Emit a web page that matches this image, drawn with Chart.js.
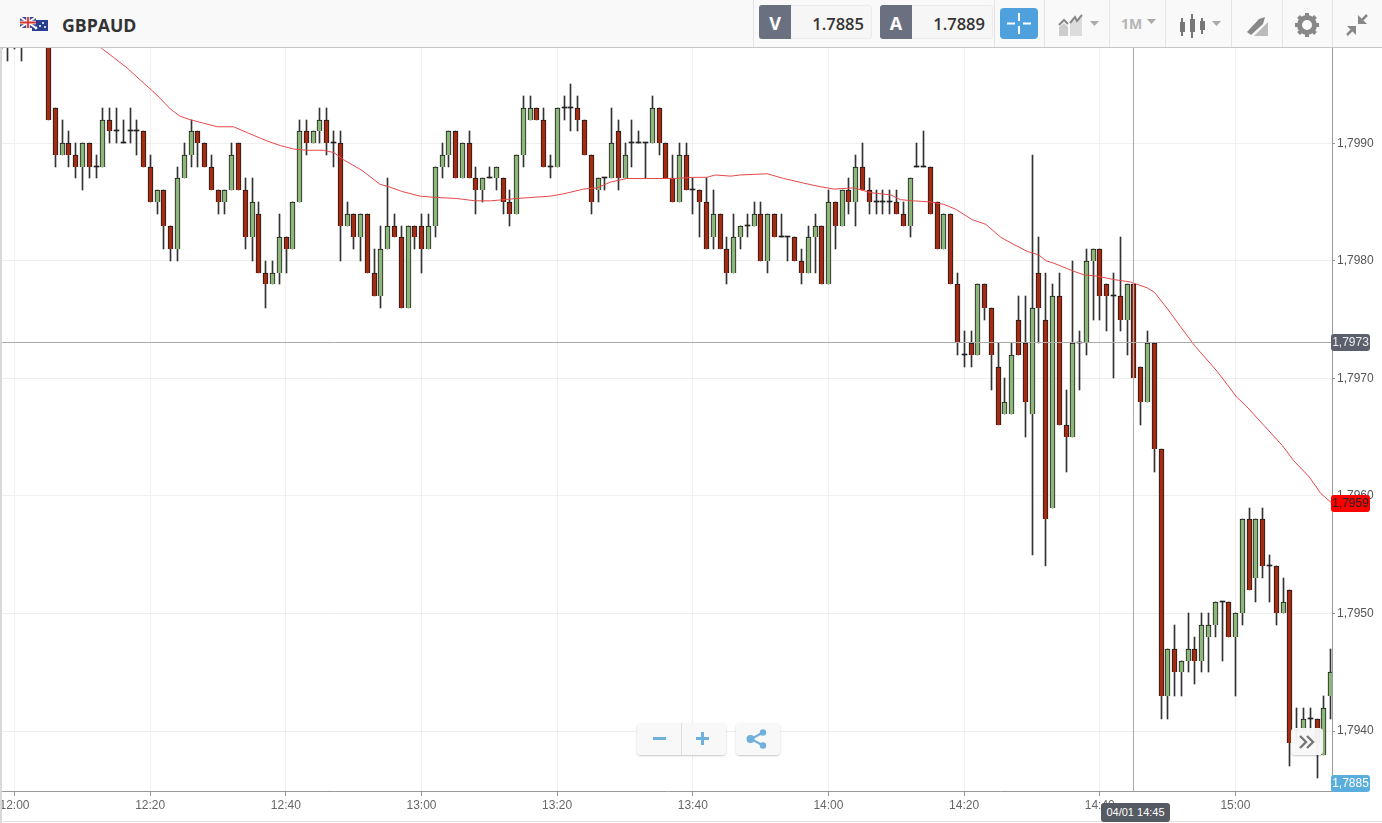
<!DOCTYPE html>
<html lang="en">
<head>
<meta charset="utf-8">
<title>GBPAUD</title>
<script src="https://cdn.jsdelivr.net/npm/chart.js@4/dist/chart.umd.min.js"></script>
<style>
html,body{margin:0;padding:0;background:#fff;width:1382px;height:823px;overflow:hidden;font-family:"Open Sans",sans-serif}
#chart{position:absolute;left:0;top:0}
.abs{position:absolute}
#header{left:0;top:0;width:1382px;height:47px;background:#f9f9f9;border-bottom:1px solid #c8c8c8}
#leftbar{left:0;top:48px;width:2px;height:775px;background:#d8d8d8}
#botline{left:0;top:821px;width:1382px;height:1px;background:#e2e2e2}
.sep{top:0;width:1px;height:47px;background:#e4e4e4}
.qty{top:5px;height:34px;background:#f6f6f6;border:1px solid #ececec;border-radius:3px;box-sizing:border-box;text-align:right;font:600 16.500px/35px "Open Sans",sans-serif;color:#333;padding-right:7px}
.side{top:5px;height:34px;width:32px;background:#6b7080;color:#fff;border-radius:3px 0 0 3px;text-align:center;font:700 18px/36px "Open Sans",sans-serif}
.pill{left:1331px;width:39px;height:17px;border-radius:3px;text-align:center;font:12px/17px "Liberation Sans",Arial,sans-serif}
.btn{background:rgba(248,248,248,.96);border-radius:4px;box-shadow:0 1px 2px rgba(0,0,0,.22)}
</style>
</head>
<body>
<canvas id="chart" width="1382" height="823"></canvas>

<div class="abs" id="leftbar"></div>
<div class="abs" id="botline"></div>
<div class="abs" id="header">
  <svg class="abs" style="left:18px;top:14px" width="32" height="20" viewBox="0 0 32 20">
    <rect x="14" y="6" width="16" height="11" fill="#2b3f8f"/>
    <circle cx="25" cy="9" r="1" fill="#fff"/><circle cx="27" cy="13" r="1" fill="#fff"/><circle cx="22" cy="12" r="1" fill="#fff"/><circle cx="18" cy="14" r="1.4" fill="#fff"/>
    <rect x="2" y="3" width="16" height="11" fill="#3a4a96"/>
    <path d="M2 3L18 14M18 3L2 14" stroke="#fff" stroke-width="2"/>
    <path d="M10 3V14M2 8.500H18" stroke="#fff" stroke-width="3.500"/>
    <path d="M10 3V14M2 8.500H18" stroke="#d33" stroke-width="1.800"/>
  </svg>
  <div class="abs" style="left:62px;top:13px;font:700 17.700px/24px 'Open Sans',sans-serif;color:#333">GBPAUD</div>
  <div class="abs sep" style="left:753px"></div>
  <div class="abs qty" style="left:759px;width:113px">1.7885</div>
  <div class="abs side" style="left:759px">V</div>
  <div class="abs qty" style="left:880px;width:113px">1.7889</div>
  <div class="abs side" style="left:880px">A</div>
  <div class="abs sep" style="left:994px"></div>
  <div class="abs" style="left:1000px;top:8px;width:38px;height:31px;background:#4ea1dc;border-radius:4px"></div>
  <svg class="abs" style="left:1000px;top:8px" width="38" height="31"><path d="M19 5V13M19 18V26M7 15.500H15M23 15.500H31" stroke="#fff" stroke-width="2"/></svg>
  <div class="abs sep" style="left:1044px"></div>
  <svg class="abs" style="left:1056px;top:12px" width="46" height="26">
    <path d="M3 24V15L8 11L12 15V24Z" fill="#ccc"/><path d="M14 24V9L26 6V24Z" fill="#dcdcdc"/>
    <path d="M3 13L8 8L12 12" fill="none" stroke="#888" stroke-width="2"/><path d="M14 11L19 5L21 9L26 3" fill="none" stroke="#888" stroke-width="2"/>
    <path d="M34 9H43L38.500 14Z" fill="#aaa"/>
  </svg>
  <div class="abs sep" style="left:1109px"></div>
  <div class="abs" style="left:1121px;top:14px;font:700 14px/20px 'Open Sans',sans-serif;color:#b4b4b4">1M</div>
  <svg class="abs" style="left:1145px;top:18px" width="12" height="8"><path d="M2 1H11L6.500 6Z" fill="#aaa"/></svg>
  <div class="abs sep" style="left:1165px"></div>
  <svg class="abs" style="left:1176px;top:12px" width="48" height="28">
    <path d="M6 6V24M16 2V26M26 6V22" stroke="#777" stroke-width="2"/>
    <rect x="4" y="10" width="5" height="10" fill="#777"/><rect x="14" y="7" width="5" height="13" fill="#777"/><rect x="24" y="9" width="5" height="9" fill="#777"/>
    <path d="M36 9H45L40.500 14Z" fill="#aaa"/>
  </svg>
  <div class="abs sep" style="left:1231px"></div>
  <svg class="abs" style="left:1244px;top:14px" width="26" height="24">
    <path d="M3 18L15 5L21 3L19 10L7 21Z" fill="#888"/>
    <path d="M10 22L24 8V22Z" fill="#bbb"/>
  </svg>
  <div class="abs sep" style="left:1282px"></div>
  <svg class="abs" style="left:1295px;top:13px" width="24" height="24" viewBox="0 0 24 24">
    <circle cx="12" cy="12" r="7.500" fill="none" stroke="#888" stroke-width="5"/>
    <path d="M12 0V5M12 19V24M0 12H5M19 12H24M3.500 3.500L7 7M17 17L20.500 20.500M20.500 3.500L17 7M7 17L3.500 20.500" stroke="#888" stroke-width="4"/>
  </svg>
  <div class="abs sep" style="left:1332px"></div>
  <svg class="abs" style="left:1345px;top:13px" width="24" height="24">
    <path d="M22 2L15 9" stroke="#888" stroke-width="2.500"/><path d="M13 2V11H22Z" fill="#888"/>
    <path d="M2 22L9 15" stroke="#888" stroke-width="2.500"/><path d="M11 22V13H2Z" fill="#888"/>
  </svg>
</div>

<div class="abs pill" style="top:334px;background:#5b606c;color:#eee">1,7973</div>
<div class="abs pill" style="top:495px;background:#f00;color:#222">1,7959</div>
<div class="abs pill" style="top:775px;background:#5aaede;color:#fff">1,7885</div>
<div class="abs" style="left:1101px;top:803px;width:69px;height:19px;background:#565b63;border-radius:3px;color:#fff;text-align:center;font:11px/19px 'Liberation Sans',Arial,sans-serif">04/01 14:45</div>

<div class="abs btn" style="left:637px;top:723px;width:89px;height:32px"></div>
<div class="abs" style="left:681px;top:723px;width:1px;height:32px;background:#ddd"></div>
<svg class="abs" style="left:637px;top:723px" width="89" height="32"><path d="M16 15.500H29M59 15.500H72M65.500 9V22" stroke="#6fb1dc" stroke-width="3"/></svg>
<div class="abs btn" style="left:736px;top:723px;width:44px;height:32px"></div>
<svg class="abs" style="left:736px;top:723px" width="44" height="32"><path d="M15 16L27 9.500M15 16L27 22.500" stroke="#6fb1dc" stroke-width="2"/><circle cx="14.500" cy="16" r="4" fill="#6fb1dc"/><circle cx="27" cy="9.500" r="3.200" fill="#6fb1dc"/><circle cx="27" cy="22.500" r="3.200" fill="#6fb1dc"/></svg>
<div class="abs btn" style="left:1291px;top:728px;width:32px;height:27px"></div>
<svg class="abs" style="left:1291px;top:728px" width="32" height="27"><path d="M9 8L15 14L9 20M16 8L22 14L16 20" fill="none" stroke="#777" stroke-width="2.400"/></svg>

<script>
const firstMinute = -2;

const opens = [
1.8000,1.7999,1.8000,1.8001,1.7999,1.8002,1.8004,1.8005,
1.7993,1.7989,1.7990,1.7989,1.7988,1.7990,1.7988,1.7988,1.7992,1.7991,
1.7990,1.7991,1.7991,1.7991,1.7988,1.7985,1.7986,1.7983,1.7981,1.7987,
1.7989,1.7991,1.7990,1.7988,1.7986,1.7985,1.7986,1.7990,1.7986,1.7982,
1.7984,1.7979,1.7978,1.7979,1.7982,1.7981,1.7985,1.7991,1.7990,1.7991,
1.7992,1.7990,1.7990,1.7983,1.7984,1.7982,1.7984,1.7979,1.7977,1.7981,
1.7983,1.7982,1.7976,1.7983,1.7983,1.7981,1.7983,1.7988,1.7989,1.7991,
1.7987,1.7990,1.7987,1.7986,1.7987,1.7987,1.7987,1.7985,1.7984,1.7989,
1.7992,1.7993,1.7992,1.7988,1.7988,1.7993,1.7993,1.7993,1.7992,1.7989,
1.7986,1.7987,1.7987,1.7991,1.7987,1.7990,1.7990,1.7990,1.7990,1.7993,
1.7990,1.7987,1.7985,1.7989,1.7986,1.7986,1.7985,1.7982,1.7984,1.7981,
1.7979,1.7982,1.7983,1.7983,1.7984,1.7980,1.7984,1.7982,1.7982,1.7982,
1.7980,1.7979,1.7982,1.7983,1.7978,1.7985,1.7983,1.7986,1.7985,1.7988,
1.7986,1.7985,1.7985,1.7985,1.7985,1.7984,1.7983,1.7988,1.7988,1.7988,
1.7985,1.7981,1.7984,1.7978,1.7972,1.7973,1.7972,1.7978,1.7976,1.7971,
1.7967,1.7967,1.7975,1.7973,1.7967,1.7979,1.7975,1.7959,1.7977,1.7966,
1.7965,1.7973,1.7973,1.7980,1.7981,1.7978,1.7977,1.7977,1.7975,1.7978,
1.7971,1.7968,1.7973,1.7964,1.7943,1.7947,1.7945,1.7946,1.7947,1.7946,
1.7948,1.7949,1.7951,1.7951,1.7948,1.7950,1.7958,1.7953,1.7958,1.7954,
1.7954,1.7950,1.7952,1.7940,1.7940,1.7941,1.7941,1.7938,1.7943];

const highs = [
1.8001,1.8001,1.8002,1.8002,1.8003,1.8005,1.8006,1.8005,
1.7993,1.7992,1.7991,1.7990,1.7990,1.7990,1.7989,1.7993,1.7993,1.7993,
1.7992,1.7993,1.7992,1.7991,1.7989,1.7986,1.7986,1.7983,1.7988,1.7990,
1.7992,1.7991,1.7990,1.7989,1.7986,1.7986,1.7990,1.7990,1.7987,1.7987,
1.7985,1.7980,1.7980,1.7984,1.7982,1.7985,1.7992,1.7992,1.7991,1.7993,
1.7993,1.7991,1.7991,1.7985,1.7984,1.7984,1.7984,1.7981,1.7983,1.7987,
1.7984,1.7983,1.7983,1.7983,1.7984,1.7984,1.7988,1.7990,1.7991,1.7991,
1.7990,1.7991,1.7988,1.7987,1.7988,1.7988,1.7987,1.7986,1.7989,1.7994,
1.7994,1.7993,1.7993,1.7989,1.7993,1.7994,1.7995,1.7994,1.7992,1.7989,
1.7987,1.7987,1.7993,1.7992,1.7990,1.7992,1.7991,1.7990,1.7994,1.7993,
1.7990,1.7989,1.7990,1.7990,1.7987,1.7986,1.7987,1.7986,1.7984,1.7982,
1.7984,1.7983,1.7984,1.7985,1.7985,1.7984,1.7984,1.7984,1.7982,1.7982,
1.7981,1.7983,1.7984,1.7983,1.7986,1.7985,1.7986,1.7987,1.7989,1.7990,
1.7987,1.7986,1.7986,1.7986,1.7986,1.7985,1.7987,1.7990,1.7991,1.7988,
1.7985,1.7984,1.7984,1.7979,1.7974,1.7974,1.7978,1.7978,1.7976,1.7973,
1.7970,1.7973,1.7977,1.7977,1.7989,1.7982,1.7979,1.7978,1.7979,1.7969,
1.7980,1.7974,1.7981,1.7981,1.7981,1.7978,1.7979,1.7982,1.7978,1.7978,
1.7971,1.7974,1.7973,1.7964,1.7947,1.7949,1.7946,1.7950,1.7948,1.7950,
1.7950,1.7951,1.7951,1.7951,1.7950,1.7958,1.7959,1.7958,1.7959,1.7955,
1.7954,1.7953,1.7952,1.7942,1.7942,1.7942,1.7941,1.7943,1.7947];

const lows = [
1.7998,1.7997,1.7998,1.7997,1.7999,1.8000,1.8002,1.7992,
1.7988,1.7989,1.7988,1.7987,1.7986,1.7987,1.7987,1.7988,1.7990,1.7990,
1.7990,1.7990,1.7989,1.7988,1.7985,1.7984,1.7981,1.7980,1.7980,1.7987,
1.7988,1.7988,1.7988,1.7986,1.7984,1.7984,1.7986,1.7986,1.7981,1.7980,
1.7979,1.7976,1.7978,1.7978,1.7979,1.7981,1.7985,1.7989,1.7990,1.7990,
1.7989,1.7988,1.7980,1.7983,1.7981,1.7980,1.7979,1.7977,1.7976,1.7981,
1.7982,1.7976,1.7976,1.7981,1.7979,1.7981,1.7982,1.7987,1.7988,1.7987,
1.7987,1.7987,1.7984,1.7985,1.7987,1.7986,1.7984,1.7983,1.7984,1.7988,
1.7992,1.7992,1.7988,1.7987,1.7988,1.7992,1.7991,1.7991,1.7989,1.7984,
1.7985,1.7986,1.7987,1.7986,1.7987,1.7988,1.7990,1.7987,1.7990,1.7989,
1.7987,1.7985,1.7985,1.7986,1.7984,1.7982,1.7981,1.7981,1.7981,1.7978,
1.7979,1.7981,1.7982,1.7983,1.7980,1.7979,1.7982,1.7982,1.7980,1.7980,
1.7978,1.7979,1.7979,1.7978,1.7978,1.7981,1.7983,1.7984,1.7983,1.7986,
1.7984,1.7984,1.7984,1.7984,1.7984,1.7983,1.7982,1.7988,1.7988,1.7984,
1.7981,1.7981,1.7978,1.7972,1.7971,1.7971,1.7972,1.7975,1.7969,1.7966,
1.7967,1.7967,1.7972,1.7965,1.7955,1.7973,1.7954,1.7959,1.7966,1.7962,
1.7965,1.7969,1.7972,1.7975,1.7975,1.7974,1.7970,1.7974,1.7972,1.7970,
1.7966,1.7968,1.7962,1.7941,1.7941,1.7943,1.7943,1.7945,1.7944,1.7945,
1.7945,1.7948,1.7946,1.7948,1.7943,1.7949,1.7952,1.7951,1.7953,1.7951,
1.7949,1.7950,1.7937,1.7939,1.7940,1.7940,1.7936,1.7938,1.7941];

const closes = [
1.7999,1.8000,1.8001,1.7999,1.8002,1.8004,1.8005,1.7992,
1.7989,1.7990,1.7989,1.7988,1.7990,1.7988,1.7988,1.7992,1.7991,1.7991,
1.7990,1.7991,1.7991,1.7988,1.7985,1.7986,1.7983,1.7981,1.7987,1.7989,
1.7991,1.7990,1.7988,1.7986,1.7985,1.7986,1.7989,1.7986,1.7982,1.7985,
1.7979,1.7978,1.7979,1.7982,1.7981,1.7985,1.7991,1.7990,1.7991,1.7992,
1.7990,1.7990,1.7983,1.7984,1.7982,1.7984,1.7979,1.7977,1.7981,1.7983,
1.7982,1.7976,1.7983,1.7982,1.7981,1.7983,1.7988,1.7989,1.7991,1.7987,
1.7990,1.7987,1.7986,1.7987,1.7987,1.7988,1.7985,1.7984,1.7989,1.7993,
1.7993,1.7992,1.7988,1.7988,1.7993,1.7993,1.7993,1.7992,1.7989,1.7985,
1.7987,1.7987,1.7990,1.7987,1.7989,1.7990,1.7990,1.7990,1.7993,1.7990,
1.7987,1.7985,1.7989,1.7986,1.7986,1.7985,1.7981,1.7984,1.7981,1.7979,
1.7982,1.7983,1.7983,1.7984,1.7980,1.7984,1.7982,1.7982,1.7982,1.7980,
1.7979,1.7982,1.7983,1.7978,1.7985,1.7983,1.7986,1.7985,1.7988,1.7986,
1.7985,1.7985,1.7985,1.7985,1.7984,1.7983,1.7987,1.7988,1.7988,1.7984,
1.7981,1.7984,1.7978,1.7973,1.7972,1.7972,1.7978,1.7976,1.7972,1.7966,
1.7968,1.7972,1.7972,1.7968,1.7976,1.7976,1.7958,1.7977,1.7966,1.7965,
1.7973,1.7973,1.7980,1.7981,1.7977,1.7977,1.7977,1.7975,1.7978,1.7970,
1.7968,1.7973,1.7964,1.7943,1.7947,1.7945,1.7946,1.7947,1.7946,1.7949,
1.7949,1.7951,1.7951,1.7948,1.7950,1.7958,1.7952,1.7958,1.7954,1.7954,
1.7950,1.7951,1.7939,1.7940,1.7941,1.7941,1.7939,1.7942,1.7945];

const maMinutes = [10,13,14.6,16.6,18.5,21,23,24.4,25.9,27.9,29.9,32.3,34.3,37.2,39.2,41.2,43.1,45.6,47.1,48.5,51.2,53.9,55.2,57.1,59.8,61.8,
65.2,67.9,70.2,74.1,79,81,83.9,85.9,87.9,90.3,94.3,97.2,100.2,102.1,103.3,105.6,107,111,113.4,116.4,118.8,120.8,123.8,126.2,
129.2,130.6,132.6,135.1,137,138.7,141.2,143.2,145.4,147.3,149.3,151,152.1,153.2,156.2,157.7,159.6,162.1,164.5,167,168.1,170,171.9,
174.1,177.3,180.2,181.5,184.2,186.9,188.6,190.9,192.6,194.4];
const maValues = [1.79995,1.79980,1.79973,1.79964,1.79954,1.79941,1.79929,1.79923,1.79920,1.79917,1.79914,1.79914,1.79909,1.79902,1.79898,1.79895,1.79894,1.79894,1.79892,1.79886,1.79877,1.79865,1.79863,1.79859,1.79855,1.79854,
1.79853,1.79851,1.79851,1.79853,1.79855,1.79857,1.79861,1.79862,1.79867,1.79870,1.79870,1.79870,1.79871,1.79871,1.79873,1.79872,1.79873,1.79874,1.79870,1.79866,1.79863,1.79861,1.79862,1.79858,
1.79856,1.79852,1.79851,1.79850,1.79848,1.79844,1.79835,1.79831,1.79820,1.79814,1.79808,1.79805,1.79800,1.79798,1.79791,1.79788,1.79787,1.79784,1.79782,1.79777,1.79773,1.79759,1.79744,
1.79727,1.79706,1.79684,1.79677,1.79660,1.79643,1.79630,1.79616,1.79602,1.79593];

const xTickMinutes = [0,20,40,60,80,100,120,140,160,180];
const xTickLabels = ["12:00","12:20","12:40","13:00","13:20","13:40","14:00","14:20","14:40","15:00"];
const yTickValues = [1.794,1.795,1.796,1.797,1.798,1.799];
const crossPrice = [1.7973];
const crossMinute = [165];
const xRange = [-1.843,194.24];
const yRange = [1.79349,1.79981];

const minutes = opens.map((_, i) => firstMinute + i);
const isDoji = i => opens[i] === closes[i];
const bodyFill = i => isDoji(i) ? "#222" : (closes[i] > opens[i] ? "#8db67a" : "#a52c12");

// Snap bars and the two cross-hair lines to whole pixels so they stay crisp, as in the reference.
const snapMarks = {
  id: "snapMarks",
  afterDatasetsUpdate(chart) {
    chart.getSortedVisibleDatasetMetas().forEach(meta => {
      if (meta.type === "bar") {
        meta.data.forEach(el => {
          el.x = Math.floor(el.x + 0.2) + 0.5;
          el.y = Math.round(el.y);
          el.base = Math.round(el.base);
          el.height = el.base - el.y;
        });
      } else if (meta.label === "Price line") {
        meta.data.forEach(el => { el.y = Math.floor(el.y - 0.6) + 0.5; });
      } else if (meta.label === "Time line") {
        meta.data.forEach(el => { el.x = Math.floor(el.x) + 0.5; });
      }
    });
  }
};

new Chart(document.getElementById("chart"), {
  type: "bar",
  plugins: [snapMarks],
  data: {
    datasets: [
      { type: "bar", label: "Wick", grouped: false, order: 4, barThickness: 1,
        backgroundColor: "#333", borderWidth: 0,
        data: minutes.map((m, i) => ({ x: m, y: [lows[i], highs[i]] })) },
      { type: "bar", label: "GBPAUD", grouped: false, order: 3, barThickness: 5, minBarLength: 1,
        backgroundColor: ctx => bodyFill(ctx.dataIndex),
        borderColor: "#1a1a1a",
        borderWidth: ctx => isDoji(ctx.dataIndex) ? 0 : 1,
        data: minutes.map((m, i) => ({ x: m, y: [Math.min(opens[i], closes[i]), Math.max(opens[i], closes[i])] })) },
      { type: "line", label: "MA", order: 2, borderColor: "#e6484a", borderWidth: 1, pointRadius: 0, tension: 0,
        data: maMinutes.map((m, i) => ({ x: m, y: maValues[i] })) },
      { type: "line", label: "Price line", order: 1, borderColor: "#aaa", borderWidth: 1, pointRadius: 0,
        data: xRange.map(x => ({ x, y: crossPrice[0] })) },
      { type: "line", label: "Time line", order: 1, borderColor: "#aaa", borderWidth: 1, pointRadius: 0,
        data: yRange.map(y => ({ x: crossMinute[0], y })) }
    ]
  },
  options: {
    responsive: false,
    animation: false,
    events: [],
    layout: { padding: { top: 48, left: 2, right: 0, bottom: 0 } },
    plugins: { legend: { display: false }, tooltip: { enabled: false }, title: { display: false } },
    scales: {
      x: {
        type: "linear", min: xRange[0], max: xRange[1], offset: false,
        afterBuildTicks: s => { s.ticks = xTickMinutes.map(value => ({ value })); },
        afterFit: s => { s.height = 32; s.paddingLeft = 0; s.paddingRight = 0; },
        grid: { offset: false, color: "#efefef", tickColor: "#999", tickLength: 5, lineWidth: 1 },
        border: { color: "#999", width: 1 },
        ticks: { color: "#666", font: { family: "Liberation Sans", size: 12 }, padding: 2, maxRotation: 0, autoSkip: false,
          callback: v => xTickLabels[xTickMinutes.indexOf(v)] }
      },
      y: {
        type: "linear", position: "right", min: yRange[0], max: yRange[1],
        afterBuildTicks: s => { s.ticks = yTickValues.map(value => ({ value })); },
        afterFit: s => { s.width = 50; s.paddingTop = 0; s.paddingBottom = 0; },
        grid: { color: "#efefef", tickColor: "#999", tickLength: 3, lineWidth: 1 },
        border: { color: "#999", width: 1 },
        ticks: { color: "#555", font: { family: "Liberation Sans", size: 12 }, padding: 2,
          callback: v => v.toFixed(4).replace(".", ",") }
      }
    }
  }
});
</script>
</body>
</html>
